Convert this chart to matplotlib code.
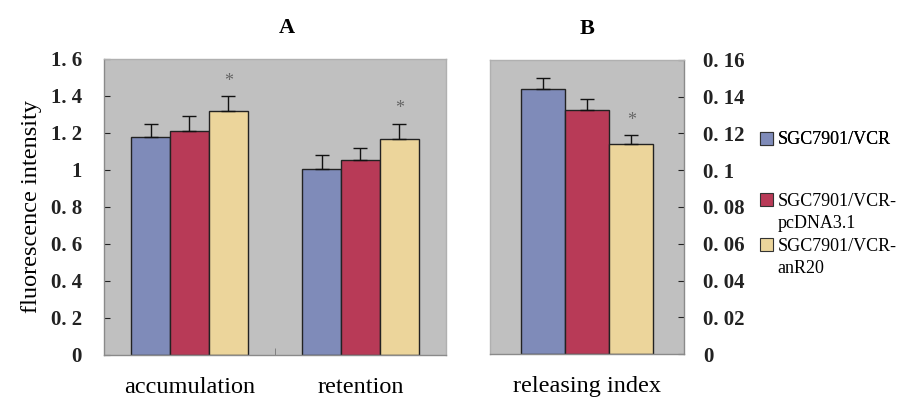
import numpy as np
import matplotlib
matplotlib.use("Agg")
import matplotlib.pyplot as plt
from matplotlib.patches import Patch

groups_a = ["accumulation", "retention"]
groups_b = ["releasing index"]
series = ["SGC7901/VCR", "SGC7901/VCR-\npcDNA3.1", "SGC7901/VCR-\nanR20"]
colors = ["#7f8bb9", "#b83a57", "#ecd59b"]

# panel A: means and upper error (top of error bar)
vals_a = [[1.18, 1.005], [1.21, 1.055], [1.32, 1.17]]
errtop_a = [[1.25, 1.08], [1.29, 1.12], [1.40, 1.25]]
# panel B
vals_b = [[0.144], [0.133], [0.1145]]
errtop_b = [[0.150], [0.1385], [0.119]]

ticks_a = [0, 0.2, 0.4, 0.6, 0.8, 1, 1.2, 1.4, 1.6]
ticklabels_a = ["0", "0. 2", "0. 4", "0. 6", "0. 8", "1", "1. 2", "1. 4", "1. 6"]
ticks_b = [0, 0.02, 0.04, 0.06, 0.08, 0.1, 0.12, 0.14, 0.16]
ticklabels_b = ["0", "0. 02", "0. 04", "0. 06", "0. 08", "0. 1", "0. 12", "0. 14", "0. 16"]

plt.rcParams['font.family'] = ['Liberation Serif', 'DejaVu Serif']

fig = plt.figure(figsize=(9.13, 3.97), dpi=100)
ax1 = fig.add_axes([0.1139, 0.1058, 0.3746, 0.7456])
ax2 = fig.add_axes([0.5367, 0.1083, 0.2125, 0.7406])

bg = "#c0c0c0"
w = 0.228


def draw(ax, groups, vals, errtop, ymax):
    x = np.arange(len(groups))
    for i in range(3):
        v = np.array(vals[i])
        e = np.array(errtop[i]) - v
        ax.bar(x + (i - 1) * w, v, w, color=colors[i], edgecolor="#222222",
               linewidth=1.0, yerr=[np.zeros_like(e), e], capsize=5,
               error_kw=dict(ecolor="#111111", elinewidth=1.0, capthick=1.0))
    ax.set_facecolor(bg)
    ax.set_xlim(-0.5, len(groups) - 0.5)
    ax.set_ylim(0, ymax)
    ax.set_xticks(x)
    ax.set_xticklabels(groups, fontsize=17.5)
    ax.tick_params(axis="x", length=0, pad=16)
    for s in ax.spines.values():
        s.set_color("#8a8a8a")
        s.set_linewidth(1.0)
    ax.spines["top"].set_color("#b0b0b0")


draw(ax1, groups_a, vals_a, errtop_a, 1.6)
ax1.set_yticks(ticks_a)
ax1.set_yticklabels(ticklabels_a, fontsize=15, fontweight="bold")
ax1.tick_params(axis="y", direction="in", length=4, pad=16, colors="#222222")
ax1.spines["right"].set_color("#b0b0b0")
ax1.set_xticks([0.5], minor=True)
ax1.tick_params(axis="x", which="minor", direction="in", length=5, color="#777777")
ax1.set_ylabel("fluorescence intensity", fontsize=17.5, labelpad=6)
ax1.set_title("A", fontsize=16, fontweight="bold", pad=19, x=0.535)
for j in range(2):
    ax1.text(j + w, errtop_a[2][j] + 0.08, "*", ha="center", va="center",
             fontsize=13, color="#666666")

draw(ax2, groups_b, vals_b, errtop_b, 0.16)
ax2.yaxis.tick_right()
ax2.set_yticks(ticks_b)
ax2.set_yticklabels(ticklabels_b, fontsize=15, fontweight="bold")
ax2.tick_params(axis="y", direction="in", length=4, pad=14, colors="#222222")
ax2.spines["left"].set_color("#b0b0b0")
ax2.set_title("B", fontsize=16, fontweight="bold", pad=19)
ax2.text(w, errtop_b[2][0] + 0.008, "*", ha="center", va="center",
         fontsize=13, color="#666666")

# legend: first line of each label next to its swatch, second line below
handles = [Patch(facecolor=colors[i], edgecolor="#333333", linewidth=0.8) for i in range(3)]
blank = Patch(facecolor="none", edgecolor="none")
lines = [s.split("\n") for s in series]
leg_kw = dict(frameon=False, fontsize=13, handlelength=0.75, handleheight=0.75,
              handletextpad=0.25, borderaxespad=0, borderpad=0)
leg1 = fig.legend([handles[0]], [lines[0][0]], loc="center left",
                  bbox_to_anchor=(0.832, 1 - 140 / 397), **leg_kw)
fig.add_artist(leg1)
h2, l2 = [], []
for i in (1, 2):
    h2 += [handles[i], blank]
    l2 += lines[i]
fig.legend(h2, l2, loc="upper left", bbox_to_anchor=(0.832, 1 - 193 / 397),
           labelspacing=0.3, **leg_kw)

fig.savefig("out.png", dpi=100)
